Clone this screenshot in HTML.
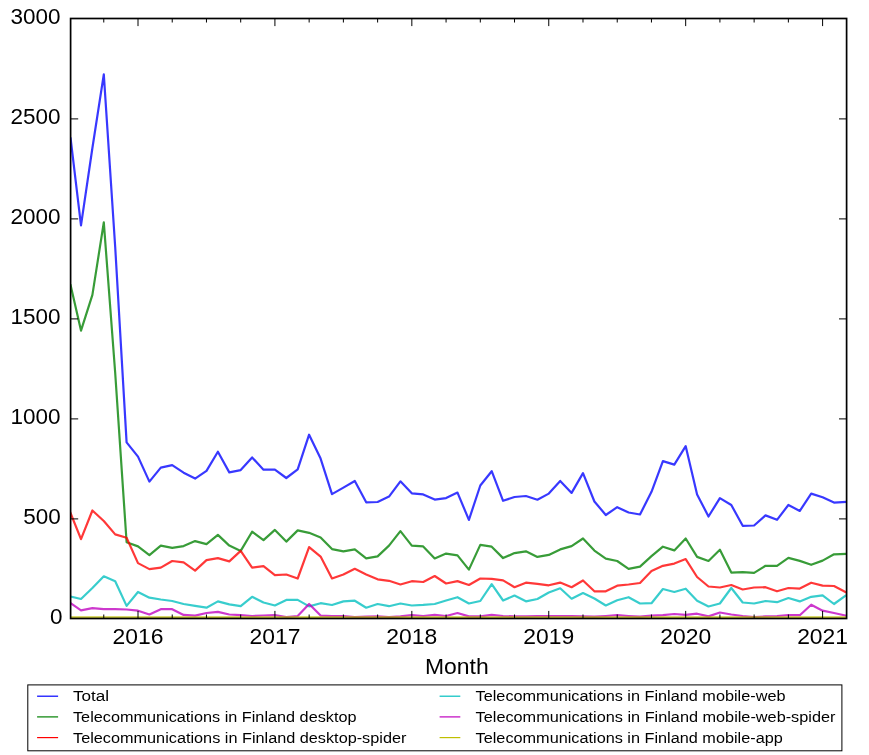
<!DOCTYPE html>
<html lang="en"><head><meta charset="utf-8"><title>Telecommunications in Finland - monthly views</title>
<style>html,body{margin:0;padding:0;background:#fff}body{width:869px;height:755px;overflow:hidden}svg{display:block;will-change:transform}text{font-family:"Liberation Sans",sans-serif;fill:#000}.tk{font-size:22.5px}.lg{font-size:15.2px}.xl{font-size:22px}.ln{fill:none;stroke-linejoin:round;stroke-linecap:square}.t{stroke:#000;fill:none}</style></head><body>
<svg width="869" height="755" viewBox="0 0 869 755">
<rect x="0" y="0" width="869" height="755" fill="#ffffff"/>
<defs><clipPath id="ax"><rect x="70.6" y="18.5" width="776.0" height="600.0"/></clipPath></defs>
<g clip-path="url(#ax)">
<polyline class="ln" stroke="#0000ff" stroke-opacity="0.78" stroke-width="2.2" points="70.6,138.5 81.0,225.4 92.4,148.0 103.8,74.4 115.2,247.0 126.6,442.4 138.0,456.6 149.4,481.6 160.8,467.6 172.2,465.2 183.6,472.7 195.1,478.6 206.5,470.9 217.9,451.7 229.3,472.4 240.7,470.1 252.1,457.4 263.5,469.7 274.9,469.7 286.3,478.0 297.7,469.4 309.1,434.7 320.6,458.6 332.0,494.1 343.4,487.6 354.8,481.0 366.2,502.3 377.6,502.0 389.0,496.6 400.4,481.3 411.8,493.3 423.2,494.4 434.7,499.6 446.1,498.1 457.5,492.6 468.9,519.9 480.3,485.5 491.7,471.2 503.1,500.8 514.5,497.0 525.9,496.0 537.4,499.7 548.8,493.6 560.2,480.9 571.6,492.9 583.0,473.1 594.4,501.5 605.8,515.0 617.2,507.2 628.6,512.5 640.0,514.5 651.5,491.8 662.9,461.1 674.3,464.6 685.7,446.2 697.1,494.4 708.5,516.5 719.9,498.1 731.3,505.0 742.7,525.8 754.1,525.5 765.5,515.4 777.0,519.8 788.4,505.0 799.8,510.9 811.2,493.6 822.6,497.3 834.0,502.6 845.4,501.9"/>
<polyline class="ln" stroke="#008000" stroke-opacity="0.78" stroke-width="2.2" points="70.6,285.2 81.0,330.6 92.4,294.9 103.8,222.4 115.2,373.0 126.6,542.3 138.0,546.4 149.4,555.1 160.8,545.6 172.2,547.9 183.6,546.1 195.1,541.1 206.5,544.1 217.9,534.9 229.3,545.6 240.7,550.9 252.1,531.7 263.5,540.1 274.9,529.9 286.3,541.6 297.7,530.4 309.1,532.8 320.6,537.4 332.0,549.1 343.4,551.3 354.8,549.4 366.2,558.4 377.6,556.4 389.0,545.6 400.4,531.1 411.8,545.6 423.2,546.4 434.7,558.4 446.1,553.6 457.5,555.4 468.9,569.6 480.3,544.9 491.7,546.7 503.1,558.1 514.5,553.1 525.9,551.3 537.4,556.9 548.8,554.9 560.2,549.4 571.6,546.1 583.0,538.5 594.4,550.6 605.8,558.7 617.2,561.0 628.6,568.8 640.0,566.6 651.5,556.1 662.9,546.7 674.3,550.4 685.7,538.5 697.1,556.9 708.5,561.0 719.9,549.7 731.3,572.6 742.7,572.1 754.1,572.9 765.5,565.8 777.0,565.8 788.4,557.9 799.8,560.9 811.2,564.8 822.6,560.6 834.0,554.3 845.4,553.9"/>
<polyline class="ln" stroke="#ff0000" stroke-opacity="0.78" stroke-width="2.2" points="70.6,513.2 81.0,539.2 92.4,510.5 103.8,521.0 115.2,534.4 126.6,537.7 138.0,563.1 149.4,569.1 160.8,567.6 172.2,561.0 183.6,562.4 195.1,570.6 206.5,560.1 217.9,558.1 229.3,561.4 240.7,550.9 252.1,567.6 263.5,566.1 274.9,575.1 286.3,574.5 297.7,578.5 309.1,547.1 320.6,556.6 332.0,578.5 343.4,574.5 354.8,568.8 366.2,574.4 377.6,579.3 389.0,580.8 400.4,584.5 411.8,581.2 423.2,582.0 434.7,576.0 446.1,583.5 457.5,581.1 468.9,585.0 480.3,578.5 491.7,578.9 503.1,580.4 514.5,587.2 525.9,582.7 537.4,583.8 548.8,585.3 560.2,582.6 571.6,587.2 583.0,580.5 594.4,591.3 605.8,591.3 617.2,585.7 628.6,584.5 640.0,583.0 651.5,571.1 662.9,565.8 674.3,563.6 685.7,559.1 697.1,577.0 708.5,586.5 719.9,587.5 731.3,585.0 742.7,589.5 754.1,587.5 765.5,587.2 777.0,591.3 788.4,588.0 799.8,588.6 811.2,582.7 822.6,585.6 834.0,586.0 845.4,592.0"/>
<polyline class="ln" stroke="#00bfbf" stroke-opacity="0.78" stroke-width="2.2" points="70.6,596.5 81.0,599.0 92.4,588.0 103.8,576.3 115.2,581.2 126.6,605.9 138.0,592.0 149.4,597.7 160.8,599.5 172.2,601.0 183.6,604.0 195.1,605.9 206.5,607.7 217.9,601.4 229.3,604.4 240.7,606.2 252.1,596.8 263.5,602.5 274.9,605.5 286.3,599.9 297.7,599.9 309.1,606.4 320.6,603.2 332.0,605.0 343.4,601.4 354.8,600.7 366.2,607.7 377.6,604.0 389.0,606.2 400.4,603.5 411.8,605.5 423.2,604.9 434.7,604.0 446.1,600.5 457.5,597.2 468.9,603.5 480.3,601.0 491.7,584.2 503.1,600.5 514.5,595.5 525.9,601.3 537.4,599.0 548.8,592.5 560.2,588.3 571.6,598.7 583.0,593.1 594.4,598.5 605.8,605.5 617.2,600.2 628.6,597.2 640.0,603.5 651.5,603.2 662.9,589.0 674.3,592.0 685.7,588.7 697.1,600.7 708.5,606.5 719.9,603.5 731.3,588.0 742.7,602.5 754.1,603.5 765.5,601.0 777.0,602.2 788.4,598.0 799.8,601.4 811.2,596.8 822.6,595.3 834.0,604.0 845.4,595.8"/>
<polyline class="ln" stroke="#bf00bf" stroke-opacity="0.78" stroke-width="2.2" points="70.6,603.2 81.0,610.3 92.4,608.2 103.8,609.2 115.2,609.2 126.6,609.5 138.0,610.7 149.4,614.5 160.8,609.2 172.2,609.2 183.6,614.9 195.1,615.6 206.5,613.0 217.9,611.9 229.3,614.5 240.7,615.2 252.1,616.0 263.5,615.5 274.9,615.2 286.3,617.0 297.7,616.0 309.1,604.0 320.6,615.6 332.0,616.0 343.4,616.0 354.8,617.0 366.2,616.7 377.6,616.4 389.0,617.0 400.4,616.4 411.8,615.2 423.2,616.0 434.7,614.9 446.1,616.0 457.5,613.0 468.9,616.4 480.3,616.4 491.7,614.8 503.1,616.0 514.5,616.4 525.9,616.4 537.4,616.0 548.8,616.0 560.2,616.0 571.6,616.0 583.0,616.4 594.4,616.7 605.8,616.0 617.2,615.2 628.6,616.0 640.0,616.7 651.5,615.7 662.9,615.2 674.3,614.0 685.7,614.9 697.1,613.7 708.5,616.4 719.9,612.5 731.3,614.5 742.7,616.0 754.1,617.0 765.5,616.4 777.0,616.0 788.4,615.2 799.8,615.2 811.2,604.7 822.6,610.7 834.0,613.0 845.4,615.5"/>
<polyline class="ln" stroke="#bfbf00" stroke-opacity="0.78" stroke-width="2.2" points="70.6,617.4 81.0,617.4 92.4,617.4 103.8,617.4 115.2,617.4 126.6,617.4 138.0,617.4 149.4,617.4 160.8,617.4 172.2,617.4 183.6,617.4 195.1,617.4 206.5,617.4 217.9,617.4 229.3,617.4 240.7,617.4 252.1,617.4 263.5,617.4 274.9,617.4 286.3,617.4 297.7,617.4 309.1,617.4 320.6,617.4 332.0,617.4 343.4,617.4 354.8,617.4 366.2,617.4 377.6,617.4 389.0,617.4 400.4,617.4 411.8,617.4 423.2,617.4 434.7,617.4 446.1,617.4 457.5,617.4 468.9,617.4 480.3,617.4 491.7,617.4 503.1,617.4 514.5,617.4 525.9,617.4 537.4,617.4 548.8,617.4 560.2,617.4 571.6,617.4 583.0,617.4 594.4,617.4 605.8,617.4 617.2,617.4 628.6,617.4 640.0,617.4 651.5,617.4 662.9,617.4 674.3,617.4 685.7,617.4 697.1,617.4 708.5,617.4 719.9,617.4 731.3,617.4 742.7,617.4 754.1,617.4 765.5,617.4 777.0,617.4 788.4,617.4 799.8,617.4 811.2,617.4 822.6,617.4 834.0,617.4 845.4,617.4"/>
</g>
<path class="t" stroke-width="1.0" d="M138.00 618.5v-7.6M138.00 18.5v7.6M274.92 618.5v-7.6M274.92 18.5v7.6M411.84 618.5v-7.6M411.84 18.5v7.6M548.76 618.5v-7.6M548.76 18.5v7.6M685.68 618.5v-7.6M685.68 18.5v7.6M822.60 618.5v-7.6M822.60 18.5v7.6M70.6 518.90h7.6M846.6 518.90h-7.6M70.6 418.90h7.6M846.6 418.90h-7.6M70.6 318.90h7.6M846.6 318.90h-7.6M70.6 218.90h7.6M846.6 218.90h-7.6M70.6 118.90h7.6M846.6 118.90h-7.6"/>
<path class="t" stroke-width="1.0" d="M103.77 618.5v-4.0M103.77 18.5v4.0M172.23 618.5v-4.0M172.23 18.5v4.0M206.46 618.5v-4.0M206.46 18.5v4.0M240.69 618.5v-4.0M240.69 18.5v4.0M309.15 618.5v-4.0M309.15 18.5v4.0M343.38 618.5v-4.0M343.38 18.5v4.0M377.61 618.5v-4.0M377.61 18.5v4.0M446.07 618.5v-4.0M446.07 18.5v4.0M480.30 618.5v-4.0M480.30 18.5v4.0M514.53 618.5v-4.0M514.53 18.5v4.0M582.99 618.5v-4.0M582.99 18.5v4.0M617.22 618.5v-4.0M617.22 18.5v4.0M651.45 618.5v-4.0M651.45 18.5v4.0M719.91 618.5v-4.0M719.91 18.5v4.0M754.14 618.5v-4.0M754.14 18.5v4.0M788.37 618.5v-4.0M788.37 18.5v4.0"/>
<rect x="70.6" y="18.5" width="776.0" height="600.0" fill="none" stroke="#000" stroke-width="1.7"/>
<text class="tk" x="49.90" y="624.30" textLength="12.50" lengthAdjust="spacingAndGlyphs">0</text>
<text class="tk" x="23.20" y="524.30" textLength="37.50" lengthAdjust="spacingAndGlyphs">500</text>
<text class="tk" x="10.40" y="424.30" textLength="50.00" lengthAdjust="spacingAndGlyphs">1000</text>
<text class="tk" x="10.40" y="324.30" textLength="50.00" lengthAdjust="spacingAndGlyphs">1500</text>
<text class="tk" x="10.40" y="224.30" textLength="50.00" lengthAdjust="spacingAndGlyphs">2000</text>
<text class="tk" x="10.40" y="124.30" textLength="50.00" lengthAdjust="spacingAndGlyphs">2500</text>
<text class="tk" x="10.40" y="24.30" textLength="50.00" lengthAdjust="spacingAndGlyphs">3000</text>
<text class="tk" x="112.55" y="643.7" textLength="50.9" lengthAdjust="spacingAndGlyphs">2016</text>
<text class="tk" x="249.47" y="643.7" textLength="50.9" lengthAdjust="spacingAndGlyphs">2017</text>
<text class="tk" x="386.39" y="643.7" textLength="50.9" lengthAdjust="spacingAndGlyphs">2018</text>
<text class="tk" x="523.31" y="643.7" textLength="50.9" lengthAdjust="spacingAndGlyphs">2019</text>
<text class="tk" x="660.23" y="643.7" textLength="50.9" lengthAdjust="spacingAndGlyphs">2020</text>
<text class="tk" x="797.15" y="643.7" textLength="50.9" lengthAdjust="spacingAndGlyphs">2021</text>
<text class="xl" x="425.0" y="674.2" textLength="63.7" lengthAdjust="spacingAndGlyphs">Month</text>
<rect x="27.8" y="684.9" width="814.1" height="65.9" fill="#fff" stroke="#000" stroke-width="1"/>
<line x1="37.1" x2="58.1" y1="696.2" y2="696.2" stroke="#0000ff" stroke-width="1.2"/>
<text class="lg" x="73.0" y="701.1" textLength="36.1" lengthAdjust="spacingAndGlyphs">Total</text>
<line x1="37.1" x2="58.1" y1="716.9" y2="716.9" stroke="#008000" stroke-width="1.2"/>
<text class="lg" x="73.0" y="721.8" textLength="283.5" lengthAdjust="spacingAndGlyphs">Telecommunications in Finland desktop</text>
<line x1="37.1" x2="58.1" y1="737.6" y2="737.6" stroke="#ff0000" stroke-width="1.2"/>
<text class="lg" x="73.0" y="742.5" textLength="333.4" lengthAdjust="spacingAndGlyphs">Telecommunications in Finland desktop-spider</text>
<line x1="439.6" x2="460.3" y1="696.2" y2="696.2" stroke="#00bfbf" stroke-width="1.2"/>
<text class="lg" x="475.6" y="701.1" textLength="309.9" lengthAdjust="spacingAndGlyphs">Telecommunications in Finland mobile-web</text>
<line x1="439.6" x2="460.3" y1="716.9" y2="716.9" stroke="#bf00bf" stroke-width="1.2"/>
<text class="lg" x="475.6" y="721.8" textLength="359.8" lengthAdjust="spacingAndGlyphs">Telecommunications in Finland mobile-web-spider</text>
<line x1="439.6" x2="460.3" y1="737.6" y2="737.6" stroke="#bfbf00" stroke-width="1.2"/>
<text class="lg" x="475.6" y="742.5" textLength="307.2" lengthAdjust="spacingAndGlyphs">Telecommunications in Finland mobile-app</text>
</svg></body></html>
